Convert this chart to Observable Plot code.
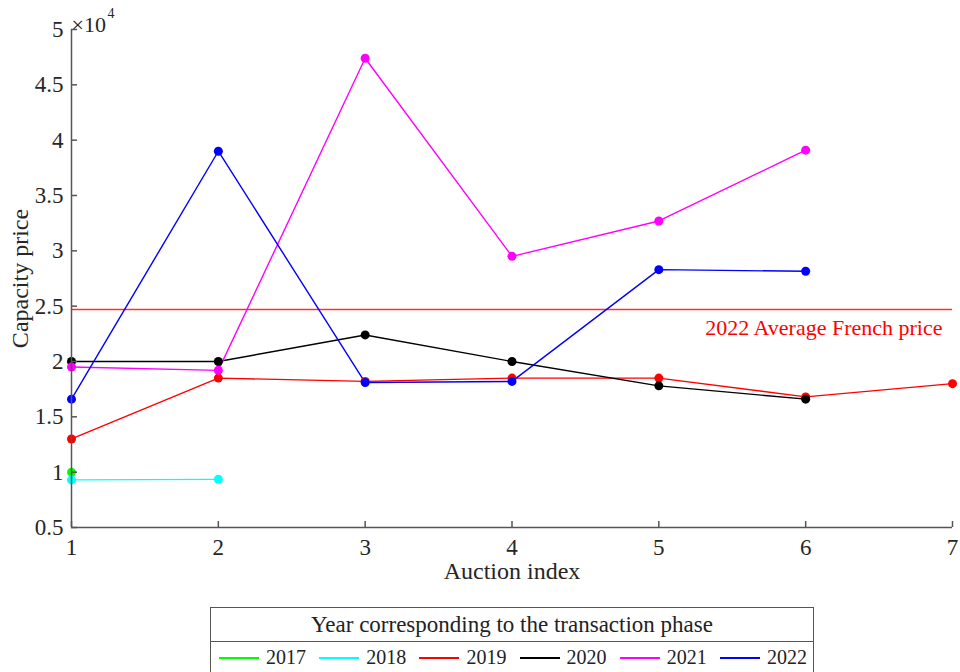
<!DOCTYPE html>
<html>
<head>
<meta charset="utf-8">
<script src="https://cdn.jsdelivr.net/npm/d3@7"></script>
<script src="https://cdn.jsdelivr.net/npm/@observablehq/plot@0.6"></script>
<style>
  html, body { margin: 0; padding: 0; background: #fff; }
  #wrap { position: relative; width: 960px; height: 672px; font-family: "Liberation Serif", serif; }
  #legend { position: absolute; left: 210px; top: 607px; width: 604px; height: 65px; border: 1.5px solid #555; border-bottom: none; box-sizing: border-box; color: #222; background:#fff; }
  #legend .title { text-align: center; font-size: 23px; height: 33px; line-height: 33px; border-bottom: 1.5px solid #555; }
  #legend .items { display: flex; justify-content: space-between; align-items: center; height: 31px; font-size: 20px; padding: 0 6px 0 8px; }
  #legend .item { display: flex; align-items: center; }
  #legend .sw { display: inline-block; width: 40px; height: 2px; margin-right: 7px; }
</style>
</head>
<body>
<div id="wrap"><div id="chart"></div><div id="legend"></div></div>
<script>
const years = ["2017", "2018", "2019", "2020", "2021", "2022"];
const colors = ["#00ff00", "#00ffff", "#ff0000", "#000000", "#ff00ff", "#0000ff"];
const price2017 = [10000];
const price2018 = [9300, 9350];
const price2019 = [13000, 18500, 18200, 18500, 18500, 16800, 18000];
const price2020 = [20000, 20000, 22400, 20000, 17800, 16600];
const price2021 = [19500, 19200, 47400, 29500, 32700, 39100];
const price2022 = [16600, 39000, 18100, 18200, 28300, 28150];
const averagePrice2022 = [24700];
const averageLabel = "2022 Average French price";
const xTicks = [1, 2, 3, 4, 5, 6, 7];
const yTicks = [5000, 10000, 15000, 20000, 25000, 30000, 35000, 40000, 45000, 50000];

const series = [price2017, price2018, price2019, price2020, price2021, price2022];
const rows = [];
series.forEach((arr, i) => arr.forEach((v, j) => rows.push({year: years[i], auction: j + 1, price: v})));

const font = "Liberation Serif, serif";
const axisColor = "#555";
const textColor = "#262626";

const chart = Plot.plot({
  width: 960,
  height: 600,
  marginLeft: 71,
  marginRight: 8,
  marginTop: 29,
  marginBottom: 73,
  style: {fontFamily: font, fontSize: "23px", color: textColor, background: "white"},
  x: {domain: [1, 7]},
  y: {domain: [5000, 50000]},
  color: {domain: years, range: colors},
  marks: [
    Plot.ruleY(averagePrice2022, {y: d => d, stroke: "#ff3030", strokeWidth: 1.3}),
    Plot.text(averagePrice2022, {x: () => 7, y: d => d, text: () => averageLabel, textAnchor: "end", dx: -10, dy: 18, fill: "#ff0000", fontSize: 22}),
    Plot.line(rows, {x: "auction", y: "price", z: "year", stroke: "year", strokeWidth: 1.4}),
    Plot.dot(rows, {x: "auction", y: "price", fill: "year", r: 4.5}),
    Plot.axisX({ticks: xTicks, tickSize: -6, tickPadding: 17, tickFormat: d => String(d), stroke: axisColor, fill: textColor, strokeWidth: 1.5, label: null}),
    Plot.axisY({ticks: yTicks, tickSize: -6, tickPadding: 14, tickFormat: d => String(d / 1e4), stroke: axisColor, fill: textColor, strokeWidth: 1.5, label: null}),
    Plot.ruleX([1], {stroke: axisColor, strokeWidth: 1.5}),
    Plot.ruleY([5000], {stroke: axisColor, strokeWidth: 1.5}),
    Plot.text(["Auction index"], {frameAnchor: "bottom", dy: 51, text: d => d, fontSize: 24, fill: textColor}),
    Plot.text(["Capacity price"], {frameAnchor: "left", textAnchor: "middle", dx: -51, rotate: -90, text: d => d, fontSize: 24, fill: textColor}),
    Plot.text(["×10"], {frameAnchor: "top-left", dx: 0, dy: -13, text: d => d, textAnchor: "start", fontSize: 22, fill: textColor}),
    Plot.text(["4"], {frameAnchor: "top-left", dx: 36, dy: -21, text: d => d, textAnchor: "start", fontSize: 14, fill: textColor})
  ]
});
document.getElementById("chart").appendChild(chart);

const legend = document.getElementById("legend");
legend.innerHTML = '<div class="title">Year corresponding to the transaction phase</div><div class="items">' +
  years.map((y, i) => `<span class="item"><span class="sw" style="background:${colors[i]}"></span>${y}</span>`).join("") + '</div>';
</script>
</body>
</html>
